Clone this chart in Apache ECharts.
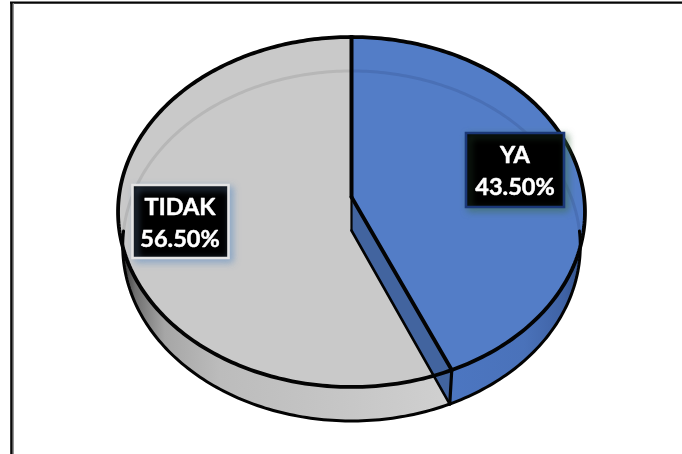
<!DOCTYPE html>
<html>
<head>
<meta charset="utf-8">
<style>html,body{margin:0;padding:0;background:#fff}#c{width:682px;height:454px}</style>
<script src="https://cdn.jsdelivr.net/npm/echarts@6/dist/echarts.min.js"></script>
</head>
<body>
<div id="c"></div>
<script>
var categories = ['YA', 'TIDAK'];
var values = [43.5, 56.5];
var topColors = ['#537DC7', '#C9C9C9'];
var faceColor = '#42649F';
var ringColors = ['#4A70B6', '#B7B7B7'];

// Tilted-disc projection: circle coordinates to screen, with perspective.
var CX = 351.5, CY = 197, RX = 232.6, RY = 173.7, P = 0.0857, DEPTH = 34, BASE_SCALE = 0.98;
function topPt(deg) {
  var t = deg * Math.PI / 180, u = Math.sin(t), v = -Math.cos(t), w = 1 - P * v;
  return [CX + RX * u / w, CY + RY * v / w];
}
function basePt(deg) {
  var p = topPt(deg);
  return [CX + (p[0] - CX) * BASE_SCALE, p[1] + DEPTH];
}
function arc(fn, a, b) {
  var n = Math.max(2, Math.ceil(Math.abs(b - a))), pts = [];
  for (var i = 0; i <= n; i++) pts.push(fn(a + (b - a) * i / n));
  return pts;
}
var total = values.reduce(function (s, x) { return s + x; }, 0);
var labelBoxes = [
  {x: 466, y: 133, w: 98, h: 74, border: '#1B3878', shadow: 'rgba(60,110,70,0.55)', tx: 515, ty: 171},
  {x: 132.5, y: 185, w: 96, h: 73, border: '#E4E4E4', shadow: 'rgba(110,150,195,0.7)', tx: 180, ty: 223}
];
var BLACK = '#030303';

function poly(points, fill, z, extra) {
  return {type: 'polygon', z2: z, shape: {points: points}, style: Object.assign({fill: fill, stroke: null}, extra || {})};
}
function line(points, width, z, color) {
  return {type: 'polyline', z2: z, shape: {points: points},
    style: {fill: null, stroke: color || BLACK, lineWidth: width, lineCap: 'round', lineJoin: 'round'}};
}

function renderItem(params, api) {
  var i = params.dataIndex, before = 0;
  for (var k = 0; k < i; k++) before += values[k];
  var a0 = before / total * 360, a1 = (before + api.value(0)) / total * 360;
  var kids = [], apex = [CX, CY], apexLow = [CX, CY + DEPTH - 0.5];

  if (i === 0) { // YA: blue slice with its cut face
    var w0 = 90, w1 = a1;
    kids.push(poly(arc(topPt, w0, w1).concat(arc(basePt, w1, w0)), {
      type: 'linear', x: 450, y: 0, x2: 585, y2: 0, global: true,
      colorStops: [{offset: 0, color: '#4C76C1'}, {offset: 0.55, color: '#4A72BA'}, {offset: 0.85, color: '#3F62A4'}, {offset: 1, color: '#2F4C82'}]
    }, 1));
    kids.push(poly([apex, topPt(a1), basePt(a1), apexLow], faceColor, 4));
    kids.push(poly([apex].concat(arc(topPt, a0, a1)), topColors[0], 5));
    kids.push(line(arc(basePt, a0 + 0.01, 90), 3, 5.5, ringColors[0]));
    kids.push(line(arc(basePt, a1, 90), 3, 7));
    kids.push(line(arc(topPt, a0, a1), 3.8, 8));
    kids.push(line([apex, topPt(a0)], 4, 8));
    kids.push(line([apex, topPt(a1)], 3.8, 8));
    kids.push(line([topPt(a1), basePt(a1)], 3.2, 8));
    kids.push(line([apex, apexLow], 2.2, 8));
    kids.push(line([apexLow, basePt(a1)], 2.6, 8));
  } else { // TIDAK: grey slice
    kids.push(poly(arc(topPt, a0, 270).concat(arc(basePt, 270, a0)), {
      type: 'linear', x: 122, y: 0, x2: 450, y2: 0, global: true,
      colorStops: [{offset: 0, color: '#333333'}, {offset: 0.04, color: '#707070'}, {offset: 0.13, color: '#A6A6A6'},
        {offset: 0.3, color: '#BCBCBC'}, {offset: 0.6, color: '#C4C4C4'}, {offset: 1, color: '#D0D0D0'}]
    }, 1));
    kids.push(poly([apex].concat(arc(topPt, a0, a1)), topColors[1], 2));
    kids.push(line(arc(basePt, 270, 360), 3, 3, ringColors[1]));
    kids.push(line(arc(basePt, a0, 270), 3, 7));
    kids.push(line(arc(topPt, a0, a1), 3.8, 8));
  }

  var b = labelBoxes[i];
  kids.push({type: 'rect', z2: 10, shape: {x: b.x, y: b.y, width: b.w, height: b.h},
    style: {fill: '#000', stroke: b.border, lineWidth: 2.6, shadowBlur: 7, shadowOffsetX: 3, shadowOffsetY: 3, shadowColor: b.shadow}});
  kids.push({type: 'text', z2: 11, x: b.tx, y: b.ty,
    style: {text: api.value(1) + '\n' + api.value(0).toFixed(2) + '%', fill: '#fff', stroke: '#fff', lineWidth: 0.5,
      align: 'center', verticalAlign: 'middle', fontFamily: 'Lato', fontWeight: 700, fontSize: 23.5, lineHeight: 32}});
  return {type: 'group', children: kids};
}

var chart = echarts.init(document.getElementById('c'), null, {renderer: 'canvas'});
chart.setOption({
  animation: false,
  backgroundColor: '#fff',
  graphic: [
    {type: 'line', shape: {x1: 10, y1: 2.6, x2: 682, y2: 2.6}, style: {stroke: '#050505', lineWidth: 2.4}},
    {type: 'line', shape: {x1: 13.2, y1: 3, x2: 13.2, y2: 454}, style: {stroke: '#8A8A8A', lineWidth: 1.4}},
    {type: 'line', shape: {x1: 11.4, y1: 2, x2: 11.4, y2: 454}, style: {stroke: '#080808', lineWidth: 2.4}}
  ],
  series: [{
    type: 'custom',
    coordinateSystem: 'none',
    silent: true,
    renderItem: renderItem,
    dimensions: ['value', {name: 'name', type: 'ordinal'}],
    encode: {value: 0},
    data: categories.map(function (c, i) { return [values[i], c]; })
  }]
});
</script>
</body>
</html>
